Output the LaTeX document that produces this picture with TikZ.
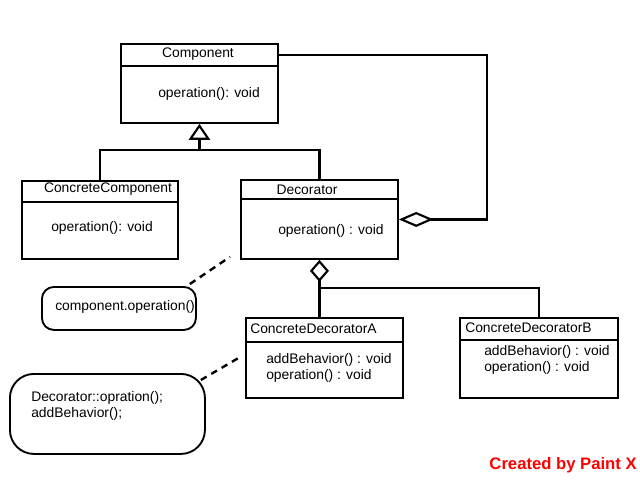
\documentclass[tikz,border=0pt]{standalone}
\usepackage{fontspec}
\setmainfont{Liberation Sans}
\usetikzlibrary{arrows.meta,calc}
\tikzset{
  cls/.style={draw, line width=1.4pt, inner sep=0pt, anchor=north west},
  note/.style={draw, line width=1.4pt, inner sep=0pt, anchor=north west, rounded corners=#1},
  sep/.style={line width=1.4pt},
  con/.style={line width=1.6pt},
  lnk/.style={line width=1.8pt, dash pattern=on 5pt off 4pt},
  lbl/.style={inner sep=0pt, font=\fontsize{10.4}{12}\selectfont},
  inh/.style={-{Triangle[open,length=12pt,width=16pt]}},
  agg/.style 2 args={-{Diamond[open,length=#1,width=#2]}},
}
\begin{document}
\begin{tikzpicture}[x=0.75pt,y=-0.75pt]
\useasboundingbox (0,0) rectangle (640,480);
% classes
\node[cls, minimum width=117.75pt, minimum height=59.25pt] (comp) at (120,43) {};
\node[cls, minimum width=117pt, minimum height=58.5pt] (cc) at (21,180) {};
\node[cls, minimum width=117.75pt, minimum height=59.25pt] (dec) at (240,179) {};
\node[cls, minimum width=117.75pt, minimum height=60pt] (cda) at (245,317) {};
\node[cls, minimum width=118.5pt, minimum height=60pt] (cdb) at (459,317) {};
\draw[sep] (comp.west |- 0,66) -- (comp.east |- 0,66);
\draw[sep] (cc.west |- 0,202) -- (cc.east |- 0,202);
\draw[sep] (dec.west |- 0,199) -- (dec.east |- 0,199);
\draw[sep] (cda.west |- 0,342) -- (cda.east |- 0,342);
\draw[sep] (cdb.west |- 0,340) -- (cdb.east |- 0,340);
\node[lbl] (compN) at (198,54) {Component};
\node[lbl, anchor=west] (compOp) at (158,94) {operation(): void};
\node[lbl] (ccN) at (108,189) {ConcreteComponent};
\node[lbl, anchor=west] (ccOp) at (51,228) {operation(): void};
\node[lbl] (decN) at (307,190) {Decorator};
\node[lbl, anchor=west] (decOp) at (278,231) {operation() : void};
\node[lbl, anchor=west] (cdaN) at (250,329) {ConcreteDecoratorA};
\node[lbl, anchor=west, align=left] (cdaOp) at (266,368) {addBehavior() : void\\operation() : void};
\node[lbl, anchor=west] (cdbN) at (465,328) {ConcreteDecoratorB};
\node[lbl, anchor=west, align=left] (cdbOp) at (484,360) {addBehavior() : void\\operation() : void};
% notes
\node[note=9pt, minimum width=115.5pt, minimum height=32.25pt] (n1) at (41,286) {};
\node[lbl, anchor=west] (n1T) at (55,307) {component.operation()};
\node[note=18pt, minimum width=146.25pt, minimum height=60pt] (n2) at (9,373) {};
\node[lbl, anchor=west, align=left] (n2T) at (31,406) {Decorator::opration();\\addBehavior();};
% connectors
\coordinate (hub) at (200,150);
\draw[con, inh] (comp.south |- hub) -- (comp.south);
\draw[con] (cc.north) |- (hub) -| (dec.north);
\coordinate (aggR) at (dec.east -| 487,0);
\draw[con, agg={26pt}{11.25pt}] ($(comp.north east)+(0,12)$) -| (aggR) -- (dec.east);
\coordinate (jB) at (0,288);
\draw[con, agg={16.5pt}{14.25pt}] (dec.south |- jB) -- (dec.south);
\draw[con] (dec.south |- cda.north) -- (dec.south |- jB) -| (cdb.north);
\draw[lnk] ($(n1.north east)+(-7,-2)$) -- ($(dec.south west)+(-10,-3)$);
\draw[lnk] ($(n2.north east)+(-5,7)$) -- ($(cda.west)+(-3,-2)$);
\node[font=\bfseries\fontsize{12.5}{14}\selectfont, text=red, anchor=east, inner sep=0pt] (mark) at (637,465) {Created by Paint X};
\end{tikzpicture}
\end{document}
